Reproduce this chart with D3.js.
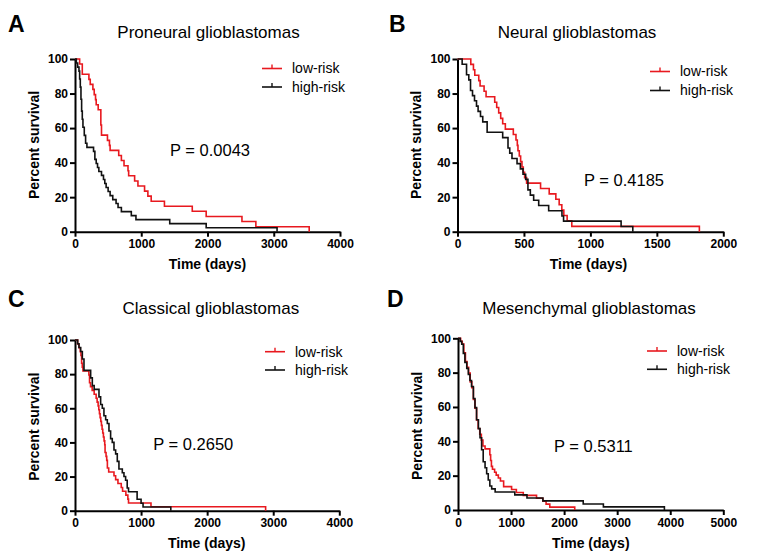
<!DOCTYPE html>
<html><head><meta charset="utf-8">
<script src="https://cdn.jsdelivr.net/npm/d3@7"></script>
<style>
body{margin:0;background:#fff;}
svg text{font-family:"Liberation Sans",Arial,sans-serif;}
</style></head>
<body><svg id="c" width="762" height="555"></svg>
<script>
// ---- data (days, percent survival) ----
const proneuralLow = [[0,100],[70,97.1],[110,91.2],[210,88.2],[230,85.3],[270,82.4],[290,79.4],[310,76.5],[320,73.5],[350,70.6],[390,61.8],[400,55.9],[490,52.9],[520,50],[530,47.1],[660,44.1],[700,41.2],[740,38.2],[800,35.3],[810,32.4],[900,29.4],[950,26.5],[1050,23.5],[1100,20.6],[1150,17.6],[1350,14.7],[1770,11.8],[1980,8.8],[2520,5.9],[2730,2.9],[3535,0]];
const proneuralHigh = [[0,100],[20,97.7],[40,95.3],[60,93],[70,88.4],[80,83.7],[90,76.7],[100,69.8],[110,65.1],[120,60.5],[140,55.8],[160,51.2],[180,48.8],[280,46.5],[300,41.9],[320,39.5],[340,37.2],[360,34.9],[400,32.6],[430,30.2],[450,27.9],[470,25.6],[500,23.3],[530,20.9],[570,18.6],[620,16.3],[650,14],[700,11.6],[850,9.3],[920,7],[1430,4.7],[1980,2.3],[3050,0]];
const neuralLow = [[0,100],[100,96.9],[120,93.8],[130,90.6],[160,87.5],[170,84.4],[200,81.3],[215,78.1],[280,75],[295,71.9],[310,68.8],[325,65.6],[340,62.5],[360,59.4],[420,56.3],[440,53.1],[450,50],[455,46.9],[465,43.8],[475,40.6],[485,37.5],[495,34.4],[505,31.3],[520,28.1],[625,25],[690,21.9],[740,18.8],[765,15.6],[785,12.5],[800,9.4],[825,6.3],[860,3.1],[1820,0]];
const neuralHigh = [[0,100],[35,97],[68,90.9],[85,87.9],[98,81.8],[113,78.8],[128,75.8],[143,72.7],[155,69.7],[173,66.7],[190,63.6],[223,57.6],[340,54.5],[380,48.5],[393,45.5],[410,42.4],[448,39.4],[473,36.4],[493,33.3],[513,30.3],[530,24.2],[548,21.2],[573,18.2],[611,15.2],[686,12.1],[786,9.1],[798,6.1],[1231,3],[1319,0]];
const classicalLow = [[0,100],[40,97.7],[60,95.5],[80,93.2],[90,90.9],[100,86.4],[110,84.1],[120,81.8],[210,79.5],[220,75],[235,72.7],[260,70.5],[290,68.2],[320,65.9],[335,63.6],[350,61.4],[360,59.1],[370,56.8],[380,54.5],[390,52.3],[400,50],[410,47.7],[420,45.5],[430,43.2],[440,40.9],[450,38.6],[455,34.1],[470,31.8],[480,29.5],[490,25],[510,22.7],[590,20.5],[615,18.2],[650,15.9],[700,13.6],[720,11.4],[770,9.1],[800,6.8],[810,4.5],[1150,2.3],[2885,0]];
const classicalHigh = [[0,100],[40,97.8],[60,95.6],[86,93.3],[111,88.9],[136,82.2],[237,77.8],[262,73.3],[290,71.1],[363,66.7],[388,62.2],[413,60],[438,55.6],[464,53.3],[489,51.1],[514,46.7],[539,42.2],[564,40],[590,35.6],[615,33.3],[640,28.9],[665,24.4],[716,22.2],[741,20],[766,17.8],[790,13.3],[810,11.1],[940,6.7],[1000,4.4],[1030,2.2],[1450,0]];
const mesenchymalLow = [[0,100],[50,98.3],[80,96.6],[110,91.5],[140,86.4],[170,83.1],[200,79.7],[230,74.6],[260,71.2],[290,64.4],[320,59.3],[350,52.5],[380,47.5],[410,44.1],[440,40.7],[470,37.3],[510,35.6],[600,32.2],[615,28.8],[630,25.4],[650,23.7],[690,22],[720,20.3],[760,18.6],[800,16.9],[860,13.6],[1010,11.9],[1100,10.2],[1230,8.5],[1480,6.8],[1600,5.1],[1660,3.4],[1730,1.7],[2200,0]];
const mesenchymalHigh = [[0,100],[40,98.2],[70,96.5],[100,91.2],[130,86],[165,82.5],[195,78.9],[225,75.4],[255,71.9],[290,64.9],[320,59.6],[350,52.6],[385,47.4],[415,42.1],[445,35.1],[475,28.1],[510,24.6],[540,21.1],[570,17.5],[600,14],[635,12.3],[700,10.5],[1070,8.8],[1300,7],[1600,5.3],[2360,3.5],[2740,1.8],[3890,0]];
const yTicks = [0,20,40,60,80,100];
const xTicksA = [0,1000,2000,3000,4000];
const xTicksB = [0,500,1000,1500,2000];
const xTicksC = [0,1000,2000,3000,4000];
const xTicksD = [0,1000,2000,3000,4000,5000];
const panelLetters = ["A","B","C","D"];
const panelTitles = ["Proneural glioblastomas","Neural glioblastomas","Classical glioblastomas","Mesenchymal glioblastomas"];
const pValues = ["P = 0.0043","P = 0.4185","P = 0.2650","P = 0.5311"];
const seriesNames = ["low-risk","high-risk"];

const RED = "#e8191f", BLK = "#111";
const svg = d3.select("#c");

const panels = [
  {low:proneuralLow, high:proneuralHigh, xt:xTicksA, x0:75, x1:340, y0:59, y1:231.7, ox:0, oy:0,
   letter:[8,31.5], title:[208.5,37.5], p:[170,156], leg:[262,68.5,87], ylab:[34,145], xlab:[207.5,269]},
  {low:neuralLow, high:neuralHigh, xt:xTicksB, x0:457.5, x1:723.3, y0:59, y1:231.7, ox:0, oy:0,
   letter:[389,31.5], title:[577,37.5], p:[584,185.5], leg:[650,71.5,90.5], ylab:[416,145], xlab:[588.5,269]},
  {low:classicalLow, high:classicalHigh, xt:xTicksC, x0:75, x1:339.3, y0:340, y1:510.7, ox:0, oy:0,
   letter:[8,307], title:[210.8,313.5], p:[153.3,450], leg:[265,351.7,370], ylab:[34,426.7], xlab:[206.7,547.5]},
  {low:mesenchymalLow, high:mesenchymalHigh, xt:xTicksD, x0:458, x1:723.3, y0:338.3, y1:510, ox:0, oy:0,
   letter:[387,307], title:[589,313.5], p:[554,451.5], leg:[647,351,369.3], ylab:[417,426], xlab:[590.8,547.5]}
];

panels.forEach((P,i)=>{
  const x = d3.scaleLinear().domain([0, d3.max(P.xt)]).range([P.x0,P.x1]);
  const y = d3.scaleLinear().domain([0,100]).range([P.y1,P.y0]);
  const g = svg.append("g");

  // letter & title
  g.append("text").attr("x",P.letter[0]).attr("y",P.letter[1]).attr("font-size",23).attr("font-weight","bold").text(panelLetters[i]);
  g.append("text").attr("x",P.title[0]).attr("y",P.title[1]).attr("text-anchor","middle").attr("font-size",17).text(panelTitles[i]);

  // axes
  const ax = g.append("g").attr("transform",`translate(0,${P.y1})`)
    .call(d3.axisBottom(x).tickValues(P.xt).tickSize(5).tickSizeOuter(0).tickPadding(3).tickFormat(d3.format("d")));
  const ay = g.append("g").attr("transform",`translate(${P.x0},0)`)
    .call(d3.axisLeft(y).tickValues(yTicks).tickSize(5).tickSizeOuter(0).tickPadding(2));
  [ax,ay].forEach(a=>{
    a.select(".domain").attr("stroke","#000").attr("stroke-width",2);
    a.selectAll(".tick line").attr("stroke","#000").attr("stroke-width",2);
    a.selectAll(".tick text").attr("font-size",12).attr("font-weight","bold").attr("fill","#000")
      .style("font-family","'Liberation Sans',Arial,sans-serif");
  });

  // axis titles
  g.append("text").attr("transform",`translate(${P.ylab[0]},${P.ylab[1]}) rotate(-90)`).attr("text-anchor","middle")
    .attr("dy","0.35em").attr("font-size",14).attr("font-weight","bold").text("Percent survival");
  g.append("text").attr("x",P.xlab[0]).attr("y",P.xlab[1]).attr("text-anchor","middle")
    .attr("font-size",14).attr("font-weight","bold").text("Time (days)");

  // curves
  const line = d3.line().x(d=>x(d[0])).y(d=>y(d[1])).curve(d3.curveStepAfter);
  g.append("path").datum(P.low).attr("d",line).attr("fill","none").attr("stroke",RED).attr("stroke-width",1.6);
  g.append("path").datum(P.high).attr("d",line).attr("fill","none").attr("stroke",BLK).attr("stroke-width",1.6);

  // p value
  g.append("text").attr("x",P.p[0]).attr("y",P.p[1]).attr("font-size",16.5).text(pValues[i]);

  // legend
  [RED,BLK].forEach((c,k)=>{
    const ly = P.leg[1+k];
    g.append("line").attr("x1",P.leg[0]).attr("x2",P.leg[0]+20).attr("y1",ly).attr("y2",ly).attr("stroke",c).attr("stroke-width",1.6);
    g.append("line").attr("x1",P.leg[0]+10).attr("x2",P.leg[0]+10).attr("y1",ly-4).attr("y2",ly).attr("stroke",c).attr("stroke-width",1.4);
    g.append("text").attr("x",P.leg[0]+30).attr("y",ly).attr("dy","0.35em").attr("font-size",14).text(seriesNames[k]);
  });
});
</script></body></html>
